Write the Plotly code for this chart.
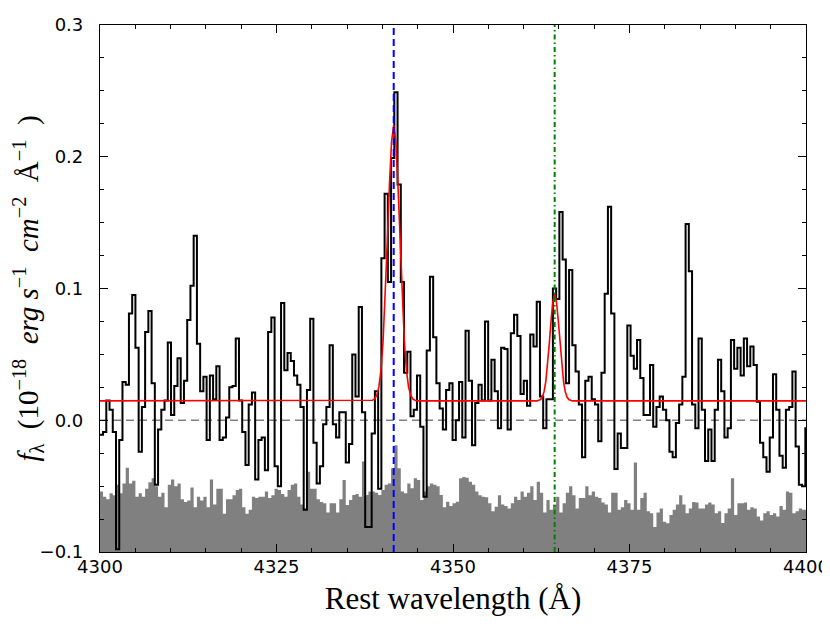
import numpy as np
import plotly.graph_objects as go

# spectrum binning (rest frame)
WAVE_START = 4299.974
BIN_WIDTH = 0.4584

# observed flux per bin, 1e-18 erg/s/cm2/A
FLUX = [
    -0.011, -0.009, 0.015, 0.008, -0.009, -0.098, -0.015, 0.029, 0.027, 0.081,
    0.095, 0.055, -0.024, 0.010, 0.067, 0.083, 0.028, -0.049, -0.007, 0.008,
    0.015, 0.059, 0.004, 0.026, 0.047, 0.013, 0.030, 0.076, 0.102, 0.140,
    0.058, 0.022, 0.033, -0.015, 0.034, 0.016, 0.041, -0.015, -0.013, 0.002,
    0.025, 0.026, 0.062, 0.015, -0.009, -0.034, 0.012, 0.021, -0.045, -0.015,
    -0.013, -0.038, 0.067, 0.078, -0.035, -0.050, 0.089, 0.038, 0.051, 0.045,
    0.034, 0.027, 0.010, -0.068, 0.023, 0.077, -0.017, -0.048, -0.035, -0.003,
    0.010, 0.057, -0.003, -0.013, 0.006, 0.006, -0.032, -0.018, 0.050, 0.018,
    0.086, 0.006, -0.081, -0.081, -0.010, 0.022, -0.052, 0.123, 0.172, 0.105,
    0.199, 0.249, 0.179, 0.105, 0.036, 0.052, 0.003, 0.008, 0.034, -0.005,
    -0.058, 0.053, 0.109, 0.063, 0.028, 0.009, -0.007, 0.023, 0.028, -0.015,
    0.000, 0.029, -0.013, 0.068, 0.030, -0.019, 0.013, 0.027, 0.015, 0.075,
    0.015, 0.046, 0.022, -0.006, 0.055, 0.054, -0.007, 0.066, 0.080, 0.064,
    0.020, 0.030, 0.011, 0.065, 0.056, 0.090, 0.018, -0.006, 0.016, 0.016,
    0.100, 0.092, 0.158, 0.122, 0.028, 0.114, 0.057, 0.037, 0.012, -0.028,
    0.030, 0.033, 0.016, 0.012, -0.016, 0.036, 0.096, 0.162, 0.081, -0.037,
    -0.010, -0.021, -0.021, 0.072, 0.049, 0.039, 0.061, 0.032, 0.004, 0.004,
    0.042, -0.005, 0.010, 0.018, 0.008, 0.000, -0.024, -0.028, -0.002, 0.012,
    0.033, 0.149, 0.113, 0.012, -0.006, 0.062, 0.008, -0.031, -0.007, -0.031,
    0.008, 0.046, 0.022, -0.013, -0.006, 0.061, 0.039, 0.055, 0.034, 0.062,
    0.041, 0.056, 0.042, 0.014, -0.017, -0.028, -0.039, -0.013, 0.035, 0.008,
    -0.027, -0.036, 0.008, 0.010, 0.037, -0.020, -0.049, -0.050, -0.006,
]

# 1-sigma error per bin (drawn shifted down to the bottom of the plot)
ERROR = [
    0.046, 0.042, 0.040, 0.0445, 0.043, 0.051, 0.0445, 0.052, 0.064, 0.052,
    0.054, 0.042, 0.0445, 0.042, 0.048, 0.053, 0.056, 0.050, 0.042, 0.045,
    0.034, 0.051, 0.055, 0.050, 0.052, 0.040, 0.038, 0.039, 0.049, 0.034,
    0.042, 0.039, 0.042, 0.034, 0.055, 0.036, 0.048, 0.048,
    0.029, 0.040, 0.040, 0.043, 0.047, 0.048, 0.034, 0.029, 0.032, 0.042,
    0.041, 0.042, 0.042, 0.046, 0.041, 0.043, 0.048, 0.047, 0.044, 0.042,
    0.047, 0.051, 0.052, 0.042, 0.036, 0.033, 0.061, 0.048, 0.048, 0.040,
    0.038, 0.037, 0.030, 0.037, 0.037, 0.030, 0.040,
    0.0546, 0.0357, 0.0395, 0.0433, 0.044, 0.042, 0.0686, 0.0433, 0.046, 0.046,
    0.045, 0.0433, 0.047, 0.051, 0.052, 0.0635, 0.081, 0.0635, 0.046, 0.0445,
    0.052, 0.0483, 0.056, 0.0546, 0.0395, 0.046, 0.050, 0.052, 0.051, 0.050,
    0.0433, 0.034, 0.0382, 0.035, 0.037, 0.0382, 0.056,
    0.057, 0.0564, 0.0534, 0.051, 0.046, 0.043, 0.042, 0.0415, 0.037, 0.031,
    0.0344, 0.043, 0.036, 0.035, 0.033, 0.037, 0.042, 0.0395, 0.046, 0.042,
    0.045, 0.050, 0.0395, 0.0534, 0.045, 0.030, 0.0395, 0.032, 0.036, 0.042,
    0.030, 0.037, 0.045, 0.050, 0.043, 0.033, 0.041,
    0.041, 0.050, 0.043, 0.046, 0.042, 0.041, 0.0375, 0.036, 0.030, 0.045,
    0.045, 0.032, 0.034, 0.0395, 0.037, 0.032, 0.068, 0.032, 0.041, 0.045,
    0.031, 0.0294, 0.019, 0.030, 0.033, 0.023, 0.0218, 0.028, 0.032, 0.036,
    0.043, 0.036, 0.0294, 0.033, 0.038, 0.0375, 0.033,
    0.033, 0.036, 0.0375, 0.036, 0.0294, 0.031, 0.022, 0.0294, 0.033, 0.056,
    0.028, 0.037, 0.037, 0.0375, 0.032, 0.034, 0.033, 0.027, 0.024, 0.0294,
    0.031, 0.028, 0.0294, 0.027, 0.035, 0.032, 0.046, 0.045, 0.0294, 0.031,
    0.033, 0.032, 0.032,
]
ERR_OFFSET = -0.1

# best-fit model (continuum + H-gamma + [OIII]4363)
FIT_WAVE = [
    4300.0, 4338.1, 4338.6, 4338.9, 4339.2, 4339.5, 4339.8, 4340.1, 4340.4,
    4340.7, 4341.0, 4341.3, 4341.6, 4341.9, 4342.2, 4342.5, 4342.8, 4343.1,
    4343.4, 4343.7, 4344.0, 4344.3, 4344.6, 4345.1,
    4361.9, 4362.4, 4362.65, 4362.9, 4363.15, 4363.4, 4363.65, 4363.9, 4364.15,
    4364.4, 4364.65, 4364.9, 4365.15, 4365.4, 4365.65, 4365.9, 4366.15, 4366.4,
    4366.9, 4400.0,
]
FIT_FLUX = [
    0.0147, 0.0147, 0.0152, 0.0162, 0.0190, 0.0253, 0.0381, 0.0605, 0.0938,
    0.1358, 0.1789, 0.2118, 0.2241, 0.2118, 0.1789, 0.1358, 0.0938, 0.0605,
    0.0381, 0.0253, 0.0190, 0.0162, 0.0152, 0.0147,
    0.0147, 0.0157, 0.0176, 0.0217, 0.0296, 0.0421, 0.0587, 0.0764, 0.0903,
    0.0956, 0.0903, 0.0764, 0.0587, 0.0421, 0.0296, 0.0217, 0.0176, 0.0157,
    0.0147, 0.0147,
]

LINE_HGAMMA = 4341.6
LINE_OIII = 4364.4

edges = WAVE_START + BIN_WIDTH * np.arange(len(FLUX) + 1)
flux_steps = FLUX + [FLUX[-1]]
err_steps = [ERR_OFFSET + e for e in ERROR + [ERROR[-1]]]

fig = go.Figure()

# error spectrum as a filled histogram sitting on the bottom axis
fig.add_trace(go.Scatter(
    x=edges, y=[ERR_OFFSET] * len(edges), mode='lines',
    line=dict(width=0, shape='hv'), hoverinfo='skip', showlegend=False))
fig.add_trace(go.Scatter(
    x=edges, y=err_steps, mode='lines', fill='tonexty', fillcolor='#808080',
    line=dict(width=0, shape='hv', color='#808080'), showlegend=False))

fig.add_hline(y=0, line=dict(color='#808080', width=1.3, dash='8px,5px'), layer='below')

fig.add_trace(go.Scatter(
    x=edges, y=flux_steps, mode='lines',
    line=dict(color='black', width=2, shape='hv'), showlegend=False))
fig.add_trace(go.Scatter(
    x=FIT_WAVE, y=FIT_FLUX, mode='lines',
    line=dict(color='red', width=1.6), showlegend=False))

fig.add_vline(x=LINE_HGAMMA, line=dict(color='#0000ff', width=2, dash='7px,4px'))
fig.add_vline(x=LINE_OIII, line=dict(color='#008000', width=2, dash='5px,3px,1.5px,3px'))

axis_common = dict(
    showline=True, linecolor='black', linewidth=1.2, mirror='ticks',
    ticks='inside', ticklen=8, tickwidth=1, tickcolor='black',
    showgrid=False, zeroline=False, automargin=False,
    tickfont=dict(family='DejaVu Sans', size=18, color='black'),
)

sp = '\u00a0'
ytitle = (f'<i>f</i><sub>λ</sub>{sp*2}(10<sup>−18</sup>{sp*2}<i>erg</i>{sp}<i>s</i><sup>−1</sup>'
          f'{sp*2}<i>cm</i><sup>−2</sup>{sp*2}Å<sup>−1</sup>{sp*2})')

fig.update_xaxes(
    range=[4300, 4400], tick0=4300, dtick=25, ticklabelstandoff=-2,
    minor=dict(dtick=5, ticks='inside', ticklen=4, tickcolor='black'),
    title=dict(text='Rest wavelength (Å)', standoff=11,
               font=dict(family='Liberation Serif', size=31, color='black')),
    **axis_common)
fig.update_yaxes(
    range=[-0.1, 0.3], tick0=-0.1, dtick=0.1, tickformat='.1f', ticklabelstandoff=12,
    minor=dict(dtick=0.025, ticks='inside', ticklen=4, tickcolor='black'),
    title=dict(text=ytitle, standoff=3,
               font=dict(family='Liberation Serif', size=29, color='black')),
    **axis_common)

# the page body adds an 8 px offset, so the figure is sized to fit the window
fig.update_layout(
    width=822, height=619,
    margin=dict(l=92, r=24, t=17, b=75),
    paper_bgcolor='white', plot_bgcolor='white',
    showlegend=False,
)

fig.write_html("out.html")
